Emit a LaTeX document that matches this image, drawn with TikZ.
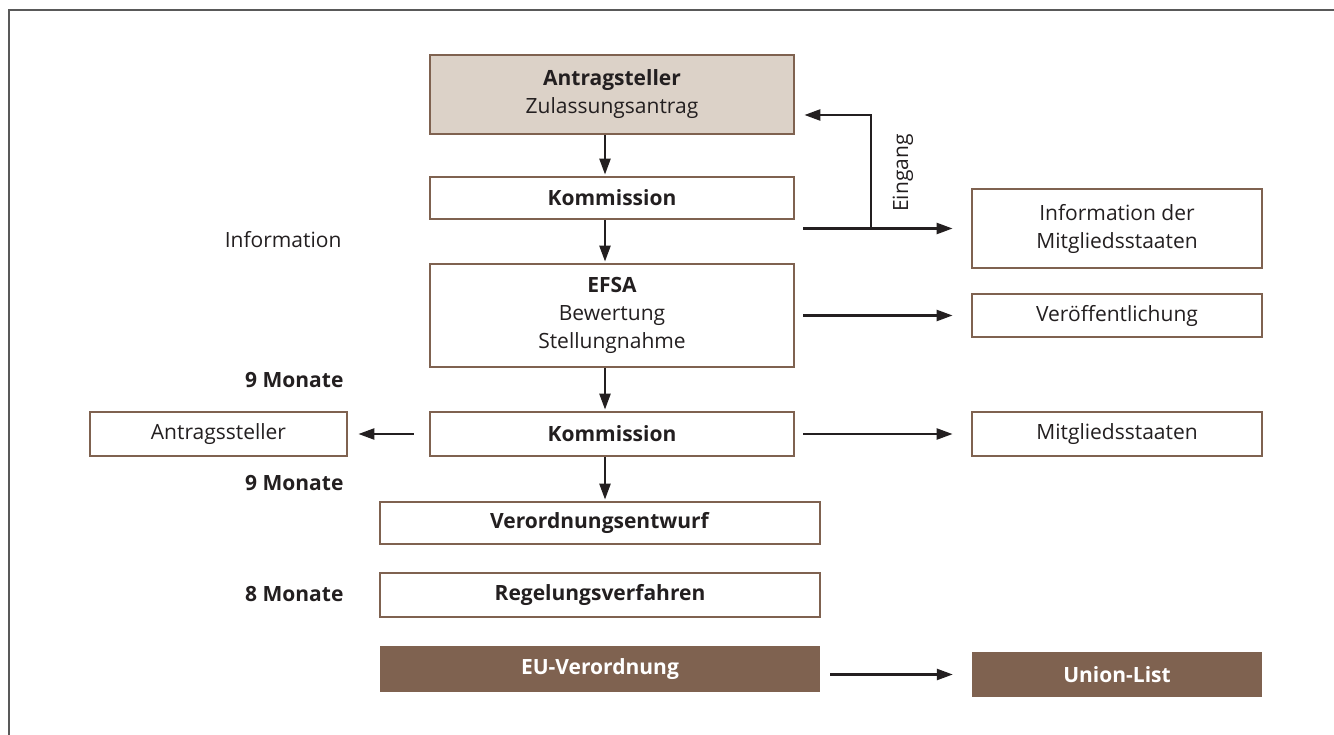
\documentclass[tikz,border=0pt]{standalone}
\usepackage{fontspec}
\setmainfont{Open Sans}
\usetikzlibrary{positioning, arrows.meta}

\definecolor{braun}{HTML}{7F6250}
\definecolor{beige}{HTML}{DCD2C8}
\definecolor{tinte}{HTML}{231F20}

\begin{document}
\begin{tikzpicture}[
    x=1pt, y=-1pt,
    >={Triangle[length=16pt,width=11pt]},
    % Styles for the boxes and connectors
    stufe/.style={rectangle, draw=braun, line width=2.8pt, fill=white, inner sep=0pt, align=center, font=\fontsize{21}{28}\selectfont, text=tinte},
    antrag/.style={stufe, fill=beige},
    ergebnis/.style={rectangle, fill=braun, inner sep=0pt, align=center, font=\fontsize{21}{28}\selectfont\bfseries, text=white},
    frist/.style={anchor=east, font=\fontsize{21}{28}\selectfont\bfseries, text=tinte},
    pfeil/.style={->, line width=2.4pt, draw=tinte}
]
  \useasboundingbox (0,0) rectangle (1334,735);
  \draw[line width=2pt, draw=black!65] (1334,10.5) -- (8.5,10.5) -- (8.5,735);

  % --- MAIN COLUMN ---
  \node[antrag, minimum width=364pt, minimum height=79pt] (ant) at (612,94.5) {\textbf{Antragsteller}\\Zulassungsantrag};
  \node[stufe, minimum width=364pt, minimum height=42pt] (kom1) at (612,198) {\textbf{Kommission}};
  \node[stufe, minimum width=364pt, minimum height=103pt] (efsa) at (612,315.5) {\textbf{EFSA}\\Bewertung\\Stellungnahme};
  \node[stufe, minimum width=364pt, minimum height=44pt] (kom2) at (612,434) {\textbf{Kommission}};
  \node[stufe, minimum width=440pt, minimum height=42pt] (entw) at (600,523) {\textbf{Verordnungsentwurf}};
  \node[stufe, minimum width=440pt, minimum height=44pt] (regel) at (600,595) {\textbf{Regelungsverfahren}};
  \node[ergebnis, minimum width=440pt, minimum height=46pt] (euvo) at (600,669) {EU-Verordnung};

  % --- SIDE BOXES ---
  \node[stufe, minimum width=290pt, minimum height=79pt] (info) at (1117,228.5) {Information der\\Mitgliedsstaaten};
  \node[stufe, minimum width=290pt, minimum height=43pt] (pub) at (1117,315.5) {Veröffentlichung};
  \node[stufe, minimum width=290pt, minimum height=44pt] (mitg) at (1117,434) {Mitgliedsstaaten};
  \node[stufe, minimum width=257pt, minimum height=44pt] (antr) at (218.5,434) {Antragssteller};
  \node[ergebnis, minimum width=290pt, minimum height=45pt] (union) at (1117,674.5) {Union-List};

  % --- TIME LABELS ---
  \node[frist, font=\fontsize{21}{28}\selectfont] (infotxt) at (345,240) {Information};
  \node[frist] (m1) at (347,380) {9 Monate};
  \node[frist] (m2) at (347,483) {9 Monate};
  \node[frist] (m3) at (347,594) {8 Monate};

  % --- VERTICAL FLOW ---
  \draw[pfeil, shorten >=1pt] ([xshift=-7pt]ant.south) -- ([xshift=-7pt]kom1.north);
  \draw[pfeil, shorten >=1pt] ([xshift=-7pt]kom1.south) -- ([xshift=-7pt]efsa.north);
  \draw[pfeil, shorten >=1pt] ([xshift=-7pt]efsa.south) -- ([xshift=-7pt]kom2.north);
  \draw[pfeil, shorten >=1pt] ([xshift=-7pt]kom2.south) -- ([xshift=5pt]entw.north);

  % --- SIDE FLOWS ---
  \draw[pfeil, shorten <=8pt, shorten >=18pt] (info.west -| kom1.east) -- (info.west);
  \coordinate (split) at (871,228.5);
  \draw[pfeil, shorten >=9pt] (split) |- ([yshift=-20.5pt]ant.east);
  \node[rotate=90, font=\fontsize{21}{28}\selectfont, text=tinte] (eingang) at (903,173) {Eingang};
  \draw[pfeil, shorten <=8pt, shorten >=18pt] (efsa.east) -- (pub.west);
  \draw[pfeil, shorten <=8pt, shorten >=18pt] (kom2.east) -- (mitg.west);
  \draw[pfeil, shorten <=15pt, shorten >=10pt] (kom2.west) -- (antr.east);
  \draw[pfeil, shorten <=10pt, shorten >=19pt] (euvo.east |- union.west) -- (union.west);
\end{tikzpicture}
\end{document}
